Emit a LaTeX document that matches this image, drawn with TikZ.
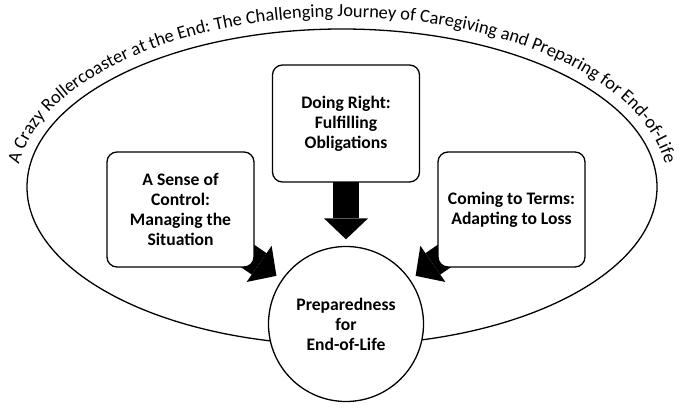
\documentclass[tikz,border=0pt]{standalone}
\usepackage{fontspec}
\setmainfont{Carlito}
\usetikzlibrary{arrows.meta, positioning, decorations.text, backgrounds}
\newcommand{\titlefont}{\fontsize{9.2}{11}\selectfont}

\begin{document}
\begin{tikzpicture}[x=0.5pt, y=0.5pt,
    theme/.style={draw, line width=0.65pt, rounded corners=5pt, fill=white,
                  minimum width=73.5pt, minimum height=57.5pt, align=center,
                  font=\bfseries\fontsize{8.8}{10}\selectfont},
    goal/.style={draw, circle, line width=0.65pt, fill=white, minimum size=77.5pt,
                 align=center, font=\bfseries\fontsize{8.8}{10}\selectfont},
    push/.style={line width=13pt, shorten >=3.25pt,
                 -{Triangle[length=10.5pt, width=22pt, line width=0pt]}}]
  \useasboundingbox (0,0) rectangle (680,407);
  \node[theme, minimum height=58.5pt] (right) at (346,283.5) {Doing Right:\\Fulfilling\\Obligations};
  \node[theme] (control) at (180.5,197.5) {A Sense of\\Control:\\Managing the\\Situation};
  \node[theme] (terms) at (511.5,197.5) {Coming to Terms:\\Adapting to Loss};
  \node[goal] (prep) at (346,83) {Preparedness\\for\\End-of-Life};

  \begin{scope}[on background layer]
    \draw[line width=0.65pt] (342,220) ellipse [x radius=157.5pt, y radius=79pt];
    \path[decorate, decoration={text along path, text align=center,
          text={|\titlefont|A Crazy Rollercoaster at the End: The Challenging Journey of Caregiving and Preparing for End-of-Life}}]
      (342,220) ++(174:163pt and 85pt)
      arc[start angle=174, end angle=6, x radius=163pt, y radius=85pt];
    \draw[push] (control.center) -- (prep);
    \draw[push] (right.center) -- (prep);
    \draw[push] (terms.center) -- (prep);
  \end{scope}
\end{tikzpicture}
\end{document}
